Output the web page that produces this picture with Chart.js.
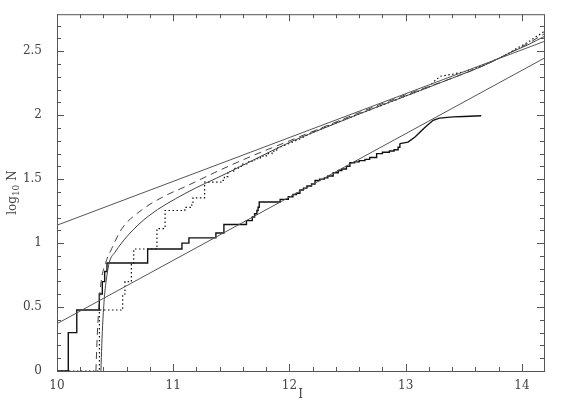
<!DOCTYPE html>
<html>
<head>
<meta charset="utf-8">
<script src="https://cdn.jsdelivr.net/npm/chart.js@4/dist/chart.umd.min.js"></script>
<style>
  body { margin: 0; background: #fff; }
  #wrap { width: 570px; height: 404px; }
</style>
</head>
<body>
<div id="wrap"><canvas id="c" width="570" height="404"></canvas></div>
<script>
// axis ranges and labelled ticks
const xRange = [10, 14.19];
const yRange = [0, 2.79];
const xMajor = [10, 11, 12, 13, 14];
const yMajor = [0, 0.5, 1, 1.5, 2, 2.5];

// straight reference lines (end points)
const upperFitX = [10, 14.2];
const upperFitY = [1.14, 2.58];
const lowerFitX = [10, 14.2];
const lowerFitY = [0.37, 2.45];

// lower cumulative counts (solid staircase), then its smooth tail
const lowStepX = [10, 10.097, 10.17, 10.364, 10.39, 10.41, 10.43, 10.78, 11.075, 11.135, 11.367, 11.436,
  11.63, 11.68, 11.70, 11.72, 11.73, 11.74, 11.92, 11.99, 12.03, 12.06, 12.09, 12.12, 12.15, 12.19,
  12.22, 12.26, 12.30, 12.33, 12.376, 12.42, 12.45, 12.49, 12.52, 12.56, 12.60, 12.65, 12.69, 12.75,
  12.80, 12.86, 12.90, 12.935, 12.95];
const lowStepY = [0, 0.30, 0.477, 0.602, 0.699, 0.778, 0.845, 0.954, 1.0, 1.041, 1.079, 1.146,
  1.176, 1.204, 1.23, 1.255, 1.28, 1.322, 1.342, 1.362, 1.38, 1.39, 1.415, 1.43, 1.447, 1.462,
  1.49, 1.50, 1.51, 1.525, 1.55, 1.568, 1.58, 1.60, 1.628, 1.635, 1.645, 1.655, 1.67, 1.70,
  1.71, 1.72, 1.73, 1.75, 1.778];
const lowTailX = [12.95, 13.02, 13.08, 13.16, 13.236, 13.29, 13.41, 13.5, 13.65];
const lowTailY = [1.778, 1.79, 1.83, 1.90, 1.96, 1.977, 1.987, 1.99, 1.996];

// upper cumulative counts (dotted staircase), then where it follows the fit line
const dotStepX = [10, 10.365, 10.565, 10.585, 10.64, 10.66, 10.86, 10.93, 11.1, 11.16, 11.17, 11.27,
  11.41, 11.44, 11.47, 11.52, 11.56, 11.6, 11.65, 11.7, 11.75, 11.8, 11.85, 11.89];
const dotStepY = [0, 0.477, 0.602, 0.699, 0.845, 0.954, 1.114, 1.255, 1.279, 1.30, 1.354, 1.477,
  1.49, 1.52, 1.56, 1.585, 1.60, 1.62, 1.64, 1.66, 1.68, 1.70, 1.72, 1.74];
const dotTailX = [11.89, 12.0, 12.1, 12.2, 12.3, 12.5, 12.7, 12.9, 13.1, 13.2, 13.25, 13.3, 13.4,
  13.5, 13.6, 13.7, 13.85, 13.95, 14.05, 14.2];
const dotTailY = [1.74, 1.78, 1.82, 1.865, 1.905, 1.975, 2.045, 2.115, 2.185, 2.22, 2.27, 2.305, 2.32,
  2.34, 2.37, 2.405, 2.465, 2.52, 2.57, 2.66];

// model curves
const solidX = [10.378, 10.385, 10.395, 10.41, 10.43, 10.45, 10.5, 10.61, 10.785, 11.1, 11.46, 11.745,
  12.03, 12.3, 12.6, 13.0, 13.4, 13.7, 13.9, 14.05, 14.2];
const solidY = [0, 0.2, 0.4, 0.6, 0.75, 0.85, 0.93, 1.06, 1.21, 1.387, 1.546, 1.675,
  1.80, 1.90, 2.01, 2.15, 2.29, 2.40, 2.49, 2.55, 2.62];
const dashX = [10.335, 10.345, 10.36, 10.38, 10.42, 10.47, 10.556, 10.73, 10.93, 11.1, 11.4, 11.7,
  12.0, 12.3, 12.6, 13.0, 13.4, 13.7, 13.9, 14.05, 14.2];
const dashY = [0, 0.25, 0.5, 0.7, 0.85, 0.956, 1.11, 1.26, 1.37, 1.44, 1.57, 1.69,
  1.80, 1.91, 2.02, 2.16, 2.29, 2.40, 2.49, 2.56, 2.64];

function pts(xs, ys) {
    return xs.map((x, i) => ({ x: x, y: ys[i] }));
}

const serif = '"DejaVu Serif", "Liberation Serif", serif';
const textColor = '#444';

// frame with inward ticks on all four sides, plus axis titles
const framePlugin = {
    id: 'frame',
    afterDraw(chart) {
        const { ctx, chartArea: a, scales: { x, y } } = chart;
        ctx.save();
        ctx.strokeStyle = '#555';
        ctx.lineWidth = 1;
        ctx.strokeRect(a.left + 0.5, a.top + 0.5, a.right - a.left, a.bottom - a.top);

        ctx.beginPath();
        for (let v = 10; v <= xRange[1] + 1e-6; v += 0.2) {
            const major = xMajor.some(m => Math.abs(m - v) < 1e-6);
            const len = major ? 7 : 4;
            const p = Math.round(x.getPixelForValue(v)) + 0.5;
            ctx.moveTo(p, a.bottom); ctx.lineTo(p, a.bottom - len);
            ctx.moveTo(p, a.top); ctx.lineTo(p, a.top + len);
        }
        for (let v = 0; v <= yRange[1] + 1e-6; v += 0.1) {
            const major = yMajor.some(m => Math.abs(m - v) < 1e-6);
            const len = major ? 7 : 4;
            const p = Math.round(y.getPixelForValue(v)) + 0.5;
            ctx.moveTo(a.left, p); ctx.lineTo(a.left + len, p);
            ctx.moveTo(a.right, p); ctx.lineTo(a.right - len, p);
        }
        ctx.stroke();

        // x title
        ctx.fillStyle = textColor;
        ctx.font = '12px ' + serif;
        ctx.textAlign = 'center';
        ctx.textBaseline = 'middle';
        ctx.fillText('I', (a.left + a.right) / 2, 395);

        // y title: log10 N with subscript
        ctx.translate(12, (a.top + a.bottom) / 2);
        ctx.rotate(-Math.PI / 2);
        ctx.textAlign = 'left';
        ctx.textBaseline = 'alphabetic';
        const big = '12px ' + serif, small = '9px ' + serif;
        ctx.font = big; const w1 = ctx.measureText('log').width;
        ctx.font = small; const w2 = ctx.measureText('10').width;
        ctx.font = big; const w3 = ctx.measureText(' N').width;
        let tx = -(w1 + w2 + w3) / 2;
        ctx.font = big; ctx.fillText('log', tx, 4); tx += w1;
        ctx.font = small; ctx.fillText('10', tx, 7); tx += w2;
        ctx.font = big; ctx.fillText(' N', tx, 4);
        ctx.restore();
    }
};

const thin = { pointRadius: 0, fill: false, tension: 0 };

new Chart(document.getElementById('c'), {
    type: 'line',
    data: {
        datasets: [
            Object.assign({ data: pts(upperFitX, upperFitY), borderColor: '#555', borderWidth: 1 }, thin),
            Object.assign({ data: pts(lowerFitX, lowerFitY), borderColor: '#555', borderWidth: 1 }, thin),
            Object.assign({ data: pts(solidX, solidY), borderColor: '#444', borderWidth: 1, cubicInterpolationMode: 'monotone' }, thin),
            Object.assign({ data: pts(dashX, dashY), borderColor: '#444', borderWidth: 1, borderDash: [7, 5], cubicInterpolationMode: 'monotone' }, thin),
            Object.assign({ data: pts(dotStepX, dotStepY), borderColor: '#111', borderWidth: 1.2, borderDash: [1.5, 2.5], stepped: true }, thin),
            Object.assign({ data: pts(dotTailX, dotTailY), borderColor: '#111', borderWidth: 1.2, borderDash: [1.5, 2.5] }, thin),
            Object.assign({ data: pts(lowStepX, lowStepY), borderColor: '#111', borderWidth: 1.4, stepped: true }, thin),
            Object.assign({ data: pts(lowTailX, lowTailY), borderColor: '#111', borderWidth: 1.4 }, thin)
        ]
    },
    options: {
        responsive: false,
        animation: false,
        devicePixelRatio: 1,
        layout: { padding: { left: 0, top: 8, right: 26, bottom: 0 } },
        plugins: { legend: { display: false }, tooltip: { enabled: false } },
        scales: {
            x: {
                type: 'linear',
                min: xRange[0],
                max: xRange[1],
                grid: { display: false },
                border: { display: false },
                afterFit: s => { s.height = 33; },
                afterBuildTicks: s => { s.ticks = xMajor.map(v => ({ value: v })); },
                ticks: {
                    padding: 0,
                    color: textColor,
                    font: { family: serif, size: 12 },
                    maxRotation: 0,
                    callback: v => String(Math.round(v * 10) / 10)
                }
            },
            y: {
                type: 'linear',
                min: yRange[0],
                max: yRange[1],
                grid: { display: false },
                border: { display: false },
                afterFit: s => { s.width = 57; },
                afterBuildTicks: s => { s.ticks = yMajor.map(v => ({ value: v })); },
                ticks: {
                    padding: 7,
                    color: textColor,
                    font: { family: serif, size: 12 },
                    callback: v => String(Math.round(v * 10) / 10)
                }
            }
        }
    },
    plugins: [framePlugin]
});
</script>
</body>
</html>
